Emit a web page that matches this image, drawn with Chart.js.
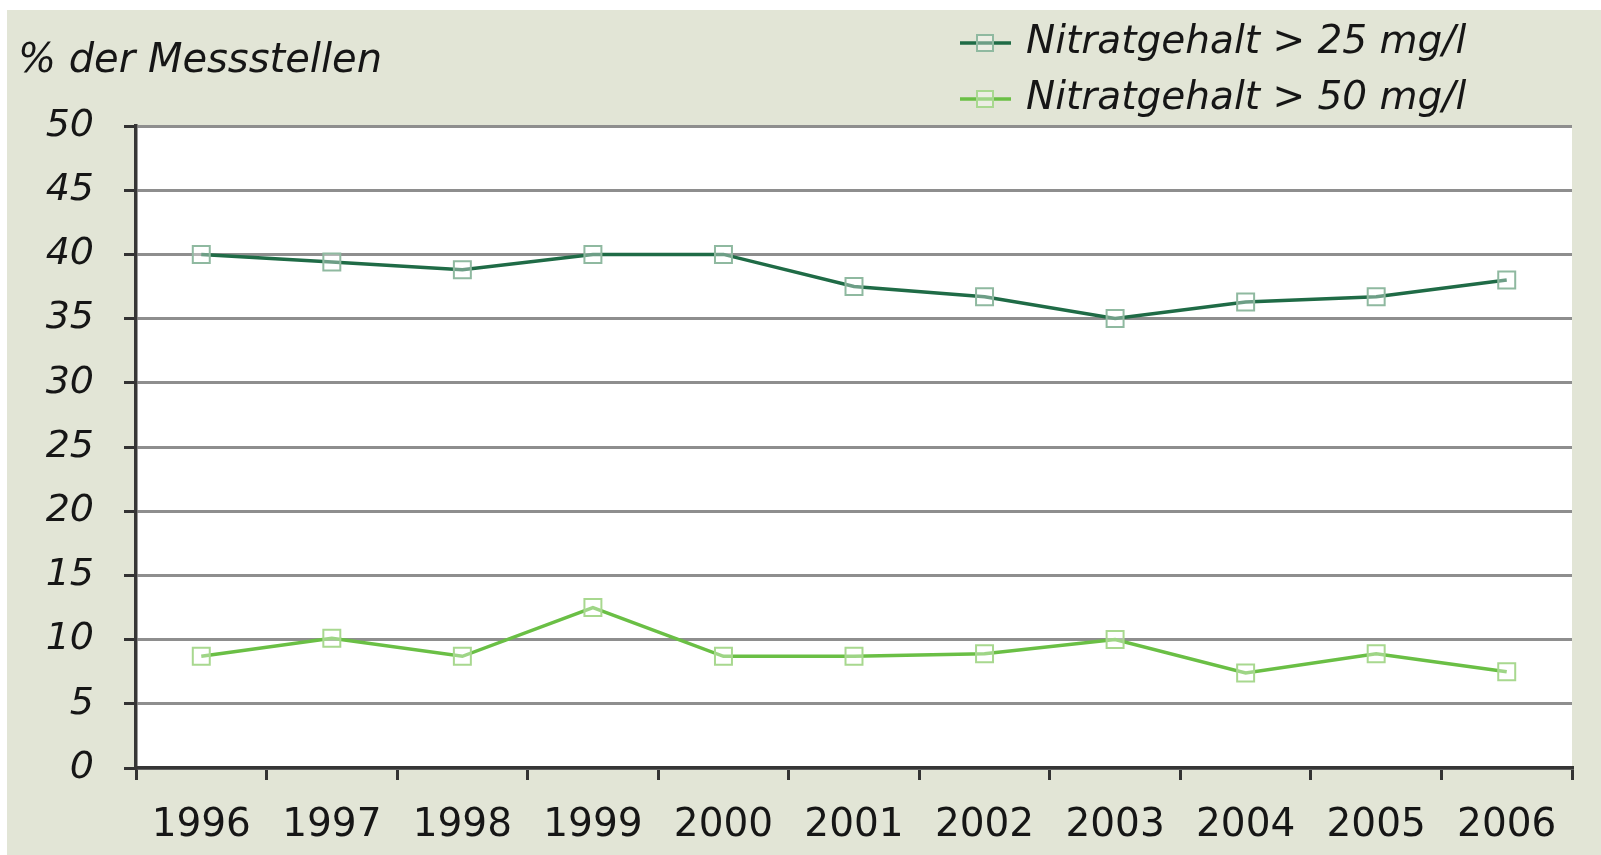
<!DOCTYPE html>
<html>
<head>
<meta charset="utf-8">
<script src="https://cdn.jsdelivr.net/npm/chart.js@4/dist/chart.umd.min.js"></script>
<style>
  html, body { margin: 0; padding: 0; background: #ffffff; }
  canvas { display: block; }
</style>
</head>
<body>
<canvas id="c" width="1601" height="855"></canvas>
<script>
const years = ['1996', '1997', '1998', '1999', '2000', '2001', '2002', '2003', '2004', '2005', '2006'];
const over25 = [40, 39.4, 38.8, 40, 40, 37.5, 36.7, 35, 36.3, 36.7, 38];
const over50 = [8.7, 10.1, 8.7, 12.5, 8.7, 8.7, 8.9, 10, 7.4, 8.9, 7.5];
const seriesLabels = ['Nitratgehalt > 25 mg/l', 'Nitratgehalt > 50 mg/l'];
const yAxisTitle = '% der Messstellen';
const yMin = 0, yMax = 50, yStep = 5;

const BEIGE = '#e2e5d6';
const TEXT = '#161616';
const FONT = 'DejaVu Sans';

const bgPlugin = {
  id: 'bg',
  beforeDraw(chart) {
    const ctx = chart.ctx;
    ctx.save();
    ctx.fillStyle = '#ffffff';
    ctx.fillRect(0, 0, chart.width, chart.height);
    ctx.fillStyle = BEIGE;
    ctx.fillRect(7, 10, chart.width - 7, chart.height - 10);
    const a = chart.chartArea;
    ctx.fillStyle = '#ffffff';
    ctx.fillRect(a.left, a.top, a.right - a.left, a.bottom - a.top);
    ctx.restore();
  }
};

const legendPlugin = {
  id: 'customLegend',
  afterDraw(chart) {
    const ctx = chart.ctx;
    ctx.save();
    ctx.font = 'italic 40px "' + FONT + '"';
    ctx.fillStyle = TEXT;
    ctx.textBaseline = 'middle';
    ctx.textAlign = 'left';
    ctx.fillText(yAxisTitle, 18, 62);
    const rows = [43, 99];
    chart.data.datasets.forEach((ds, i) => {
      const y = rows[i];
      ctx.strokeStyle = ds.borderColor;
      ctx.lineWidth = 3.5;
      ctx.beginPath();
      ctx.moveTo(960, y);
      ctx.lineTo(1011, y);
      ctx.stroke();
      ctx.fillStyle = 'rgba(255,255,255,0.35)';
      ctx.strokeStyle = ds.pointBorderColor;
      ctx.lineWidth = 2;
      ctx.fillRect(977, y - 8, 16, 16);
      ctx.strokeRect(977, y - 8, 16, 16);
      ctx.fillStyle = TEXT;
      ctx.font = 'italic 39px "' + FONT + '"';
      ctx.fillText(ds.label, 1026, y);
    });
    ctx.restore();
  }
};

new Chart(document.getElementById('c'), {
  type: 'line',
  data: {
    labels: years,
    datasets: [
      {
        label: seriesLabels[0],
        data: over25,
        borderColor: '#1f6b46',
        borderWidth: 3.5,
        pointStyle: 'rect',
        pointRadius: 12,
        pointBorderWidth: 2,
        pointBorderColor: '#8fb9a0',
        pointBackgroundColor: 'rgba(255,255,255,0.35)',
        tension: 0
      },
      {
        label: seriesLabels[1],
        data: over50,
        borderColor: '#6abf45',
        borderWidth: 3.5,
        pointStyle: 'rect',
        pointRadius: 12,
        pointBorderWidth: 2,
        pointBorderColor: '#a8d88f',
        pointBackgroundColor: 'rgba(255,255,255,0.35)',
        tension: 0
      }
    ]
  },
  options: {
    responsive: false,
    animation: false,
    devicePixelRatio: 1,
    layout: { padding: { left: 7, top: 126, right: 29, bottom: 0 } },
    plugins: {
      legend: { display: false },
      title: { display: false },
      tooltip: { enabled: false }
    },
    scales: {
      x: {
        offset: true,
        grid: {
          offset: true,
          drawOnChartArea: false,
          drawTicks: true,
          tickLength: 12,
          tickColor: '#333333',
          lineWidth: 3
        },
        border: { display: true, color: '#363636', width: 3.5 },
        ticks: {
          color: TEXT,
          padding: 22,
          maxRotation: 0,
          autoSkip: false,
          font: { family: FONT, size: 39 }
        },
        afterFit(scale) { scale.height = 87; }
      },
      y: {
        min: yMin,
        max: yMax,
        ticks: {
          stepSize: yStep,
          color: TEXT,
          padding: 30,
          font: { family: FONT, size: 38, style: 'italic' }
        },
        grid: {
          color: '#8e8e8e',
          lineWidth: 3,
          tickLength: 12,
          tickColor: '#333333'
        },
        border: { display: true, color: '#363636', width: 3.5 },
        afterFit(scale) { scale.width = 129; }
      }
    }
  },
  plugins: [bgPlugin, legendPlugin]
});
</script>
</body>
</html>
